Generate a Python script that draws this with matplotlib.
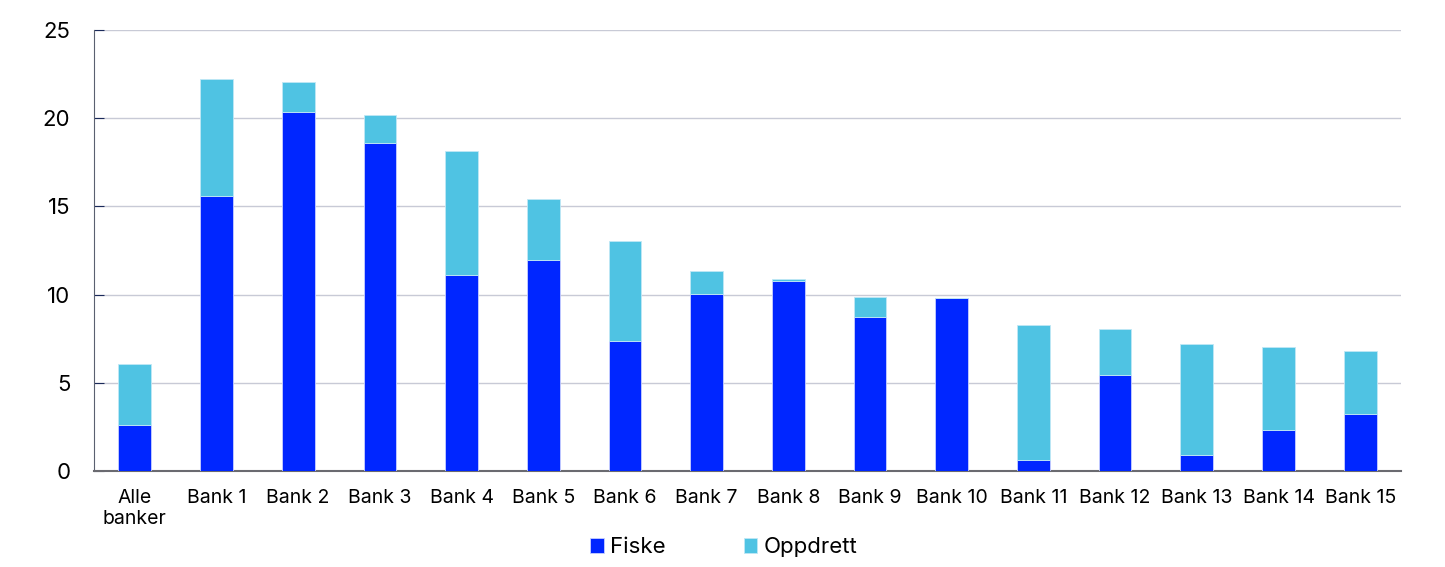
import numpy as np
import matplotlib.pyplot as plt

# Data
categories = ['Alle\nbanker', 'Bank 1', 'Bank 2', 'Bank 3', 'Bank 4', 'Bank 5', 'Bank 6', 'Bank 7',
              'Bank 8', 'Bank 9', 'Bank 10', 'Bank 11', 'Bank 12', 'Bank 13', 'Bank 14', 'Bank 15']
fiske = [2.6, 15.6, 20.35, 18.6, 11.1, 11.95, 7.37, 10.03, 10.77, 8.73, 9.82, 0.62, 5.44, 0.9, 2.32, 3.23]
oppdrett = [3.47, 6.6, 1.7, 1.6, 7.05, 3.45, 5.67, 1.31, 0.11, 1.13, 0.0, 7.66, 2.61, 6.3, 4.71, 3.57]

plt.rcParams['font.family'] = ['Inter', 'DejaVu Sans']

fig = plt.figure(figsize=(14.45, 5.67), dpi=100)
ax = fig.add_axes([0.065, 0.1693, 0.9046, 0.7777])

x = np.arange(len(categories))
ax.bar(x, fiske, width=0.4, color='#0026FF', edgecolor='#c8d0ff', linewidth=0.6, label='Fiske', zorder=3)
ax.bar(x, oppdrett, width=0.4, bottom=fiske, color='#4FC3E3', edgecolor='#c0e8f5', linewidth=0.6,
       label='Oppdrett', zorder=3)

ax.set_xlim(-0.5, len(categories) - 0.5)
ax.set_ylim(0, 25)
ax.set_yticks([0, 5, 10, 15, 20, 25])
ax.set_xticks(x)
ax.set_xticklabels(categories, fontsize=14)
ax.tick_params(axis='y', labelsize=16, direction='in', length=7, color='#1a2a5a', pad=17)
ax.tick_params(axis='x', length=0, pad=13)

ax.grid(axis='y', color='#c8cad6', linewidth=1, zorder=0)
ax.spines['top'].set_visible(False)
ax.spines['right'].set_visible(False)
ax.spines['left'].set_color('#5a6070')
ax.spines['bottom'].set_color('#6a6a70')
ax.spines['bottom'].set_linewidth(1.5)

ax.legend(loc='upper center', bbox_to_anchor=(0.482, -0.105), ncol=2, frameon=False, fontsize=16,
          handlelength=0.6, handleheight=0.6, handletextpad=0.3, columnspacing=3.5)

fig.savefig('out.png', dpi=100)
